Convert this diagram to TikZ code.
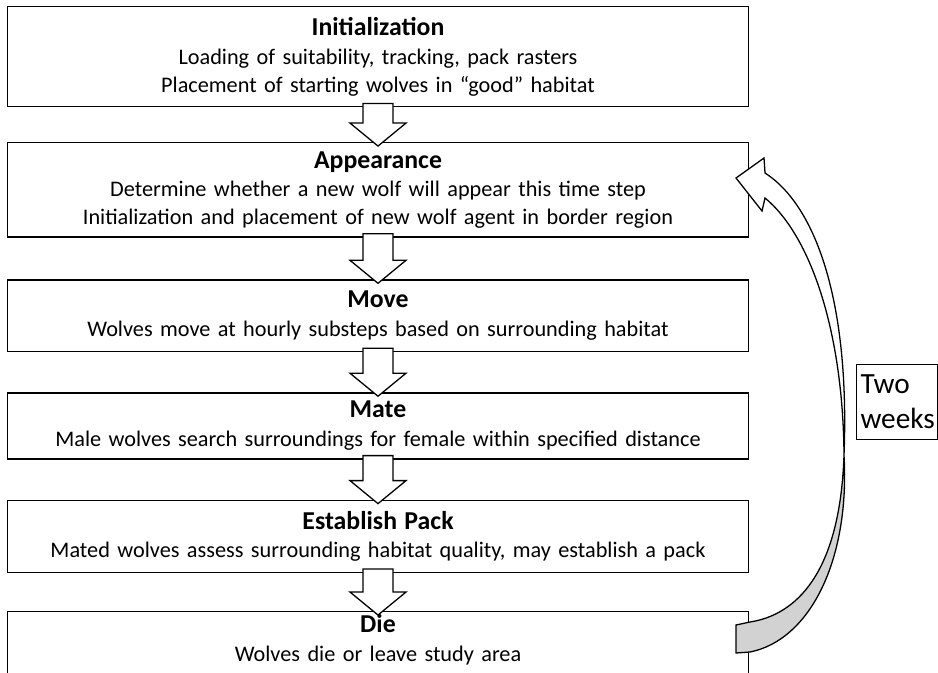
\documentclass[tikz,border=0pt]{standalone}
\usepackage{fontspec}
\setmainfont{Carlito}
\usetikzlibrary{positioning,calc}
\newcommand{\stepfont}{\fontsize{19pt}{23.6pt}\selectfont}
\newcommand{\steptitle}[1]{{\fontsize{22pt}{26pt}\selectfont\bfseries #1}}
\newcommand{\notefont}{\fontsize{25pt}{30pt}\selectfont}
\tikzset{
    % Step Box
    node_step/.style = {draw=black, line width=1.2pt, fill=white, align=center, inner sep=0pt, text width=222.45mm, font=\stepfont},
    % Note Box
    node_note/.style = {draw=black, line width=0.9pt, fill=white, align=left, inner xsep=1.2mm, inner ysep=0pt, text width=21.9mm, minimum height=22.5mm, font=\notefont},
    % Block Arrow
    arrow_block/.style = {draw=black, line width=1.1pt, fill=white, line join=miter},
    % Loop Arrow
    arrow_loop/.style = {draw=black, line width=1.1pt, line join=miter}
}
\newcommand{\flowarrow}[2]{%
    \draw[arrow_block] ($(#1.south)+(-15,-4)$) -- ($(#1.south)+(15,-4)$) -- ($(#2.north)+(15,-19)$)
        -- ($(#2.north)+(28,-19)$) -- ($(#2.north)+(0,4)$) -- ($(#2.north)+(-28,-19)$) -- ($(#2.north)+(-15,-19)$) -- cycle;
}

\begin{document}
\begin{tikzpicture}[x=0.3mm, y=-0.3mm]
    \useasboundingbox (0,0) rectangle (938,672);
    \clip (0,0) rectangle (938,672);

    \node[node_step, anchor=north, minimum height=30mm] (init) at (378,6)
        {\steptitle{Initialization}\\[1pt]Loading of suitability, tracking, pack rasters\\Placement of starting wolves in “good” habitat};
    \node[node_step, below=10.4mm of init, minimum height=28.3mm] (appear)
        {\steptitle{Appearance}\\[1pt]Determine whether a new wolf will appear this time step\\Initialization and placement of new wolf agent in border region};
    \node[node_step, below=12.45mm of appear, minimum height=21.45mm] (move)
        {\steptitle{Move}\\[1pt]Wolves move at hourly substeps based on surrounding habitat};
    \node[node_step, below=12mm of move, minimum height=19.8mm] (mate)
        {\steptitle{Mate}\\[1pt]Male wolves search surroundings for female within specified distance};
    \node[node_step, below=12mm of mate, minimum height=21.6mm] (pack)
        {\steptitle{Establish Pack}\\[1pt]Mated wolves assess surrounding habitat quality, may establish a pack};
    \node[node_step, below=11.4mm of pack, minimum height=21.6mm] (die)
        {\steptitle{Die}\\[1pt]Wolves die or leave study area\rule[-17pt]{0pt}{17pt}};

    \flowarrow{init}{appear}
    \flowarrow{appear}{move}
    \flowarrow{move}{mate}
    \flowarrow{mate}{pack}
    \flowarrow{pack}{die}

    % back side of the loop
    \draw[arrow_loop, fill=gray!35] (736,625) -- (750,622) .. controls (795,615) and (840,575) .. (844,455)
        .. controls (850,560) and (810,640) .. (750,652) -- (736,653) -- cycle;
    % front side of the loop with its head
    \draw[arrow_loop, fill=white] (844,455) .. controls (843,330) and (810,235) .. (765,198) -- (762,211)
        -- (736,178) -- (764,158) -- (765,173) .. controls (815,205) and (850,300) .. (844,455) -- cycle;

    \node[node_note, anchor=north west] (weeks) at (856,364) {Two\\weeks};
\end{tikzpicture}
\end{document}
